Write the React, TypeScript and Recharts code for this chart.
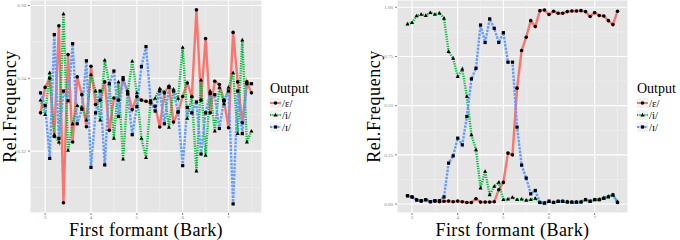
import React from 'react';
import { LineChart, Line, XAxis, YAxis, CartesianGrid, ReferenceLine, Label } from 'recharts';

const bark = [2.9, 3.0, 3.1, 3.2, 3.3, 3.4, 3.5, 3.6, 3.7, 3.8, 3.9, 4.0, 4.1, 4.2, 4.3, 4.4, 4.5, 4.6, 4.7, 4.8, 4.9, 5.0, 5.1, 5.2, 5.3, 5.4, 5.5, 5.6, 5.7, 5.8, 5.9, 6.0, 6.1, 6.2, 6.3, 6.4, 6.5, 6.6, 6.7, 6.8, 6.9, 7.0, 7.1, 7.2, 7.3, 7.4, 7.5];

// Left panel
const leftEh = [0.3305, 0.3375, 0.340, 0.324, 0.3544, 0.3058, 0.3465, 0.3225, 0.3404, 0.3355, 0.3267, 0.3433, 0.3328, 0.334, 0.339, 0.3257, 0.3346, 0.334, 0.3396, 0.3364, 0.3314, 0.335, 0.334, 0.3337, 0.3332, 0.3323, 0.3266, 0.336, 0.3378, 0.328, 0.3307, 0.335, 0.3387, 0.335, 0.3588, 0.334, 0.3509, 0.3305, 0.3392, 0.3383, 0.334, 0.3264, 0.3526, 0.339, 0.3278, 0.339, 0.336];
const leftI = [0.334, 0.330, 0.3415, 0.3245, 0.3225, 0.3577, 0.3202, 0.3275, 0.3325, 0.332, 0.3285, 0.341, 0.3365, 0.3285, 0.345, 0.3385, 0.3235, 0.339, 0.3178, 0.336, 0.3447, 0.336, 0.3235, 0.3182, 0.3335, 0.3345, 0.3372, 0.3362, 0.3265, 0.337, 0.3345, 0.3485, 0.329, 0.335, 0.3145, 0.3395, 0.3188, 0.3365, 0.3255, 0.3375, 0.333, 0.3375, 0.3415, 0.3248, 0.3505, 0.3225, 0.3255];
const leftIh = [0.336, 0.3325, 0.318, 0.352, 0.3235, 0.3365, 0.3338, 0.3495, 0.3275, 0.3315, 0.3448, 0.3155, 0.3305, 0.3365, 0.3162, 0.3385, 0.342, 0.3295, 0.3402, 0.3357, 0.3245, 0.3322, 0.3432, 0.3487, 0.3338, 0.331, 0.3365, 0.3275, 0.3375, 0.3365, 0.3308, 0.316, 0.332, 0.3305, 0.3335, 0.3192, 0.3305, 0.3358, 0.3355, 0.3262, 0.3338, 0.3365, 0.3055, 0.3365, 0.3248, 0.3385, 0.3385];

// Right panel
const rightEh = [0.042, 0.036, 0.022, 0.014, 0.022, 0.012, 0.015, 0.012, 0.014, 0.015, 0.012, 0.015, 0.012, 0.008, 0.008, 0.027, 0.01, 0.01, 0.01, 0.012, 0.073, 0.11, 0.259, 0.25, 0.589, 0.78, 0.848, 0.932, 0.902, 0.983, 0.986, 0.963, 0.98, 0.97, 0.97, 0.978, 0.981, 0.981, 0.983, 0.978, 0.953, 0.973, 0.958, 0.956, 0.932, 0.912, 0.98];
const rightI = [0.915, 0.922, 0.956, 0.964, 0.958, 0.973, 0.964, 0.970, 0.944, 0.775, 0.741, 0.648, 0.685, 0.547, 0.352, 0.276, 0.081, 0.166, 0.047, 0.09, 0.11, 0.022, 0.025, 0.034, 0.022, 0.025, 0.019, 0.022, 0.029, 0.008, 0.005, 0.012, 0.008, 0.014, 0.014, 0.012, 0.01, 0.01, 0.012, 0.022, 0.015, 0.022, 0.025, 0.032, 0.039, 0.047, 0.012];
const rightIh = [0.042, 0.036, 0.02, 0.017, 0.022, 0.012, 0.017, 0.017, 0.036, 0.208, 0.245, 0.335, 0.301, 0.445, 0.636, 0.69, 0.91, 0.821, 0.941, 0.893, 0.821, 0.871, 0.721, 0.721, 0.391, 0.198, 0.132, 0.052, 0.069, 0.008, 0.005, 0.015, 0.008, 0.014, 0.014, 0.01, 0.01, 0.01, 0.01, 0.022, 0.014, 0.022, 0.022, 0.029, 0.036, 0.046, 0.008];

const xTicks = [3, 4, 5, 6, 7];
const xMinor = [3.5, 4.5, 5.5, 6.5, 7.5];
const leftYTicks = [0.32, 0.34, 0.36];
const leftYMinor = [0.31, 0.33, 0.35];
const rightYTicks = [0, 0.25, 0.5, 0.75, 1];
const rightYMinor = [0.125, 0.375, 0.625, 0.875];
const outputLabels = ['/ɛ/', '/i/', '/ɪ/'];

const COLORS = ['#F8766D', '#00BA38', '#619CFF'];
const DASHES = [undefined, '1.2 1.2', '2.4 1.2'];
const SHAPES = ['circle', 'triangle', 'square'];
const KEYS = ['eh', 'i', 'ih'];
const SERIF = '"Liberation Serif", "Times New Roman", serif';

const marker = (shape: string, cx: number, cy: number, key?: any) => {
  if (shape === 'circle') return <circle key={key} cx={cx} cy={cy} r={1.8} fill="#000" />;
  if (shape === 'square') return <rect key={key} x={cx - 1.6} y={cy - 1.6} width={3.2} height={3.2} fill="#000" />;
  return <path key={key} d={`M${cx},${cy - 2.2}L${cx + 2},${cy + 1.4}L${cx - 2},${cy + 1.4}Z`} fill="#000" />;
};

const makeDot = (shape: string) => (props: any) => {
  const { cx, cy, index } = props;
  if (cx == null || cy == null || isNaN(cx) || isNaN(cy)) return <g key={`d${index}`} />;
  return marker(shape, cx, cy, `d${index}`);
};

type PanelProps = {
  left: number;
  eh: number[];
  i: number[];
  ih: number[];
  yDomain: [number, number];
  yTicks: number[];
  yMinor: number[];
  yAxisWidth: number;
  marginRight: number;
  yTitleX: number;
};

const Panel = ({ left, eh, i, ih, yDomain, yTicks, yMinor, yAxisWidth, marginRight, yTitleX }: PanelProps) => {
  const data = bark.map((x, k) => ({ x, eh: eh[k], i: i[k], ih: ih[k] }));
  return (
    <div style={{ position: 'absolute', left, top: 0, width: 340, height: 240 }}>
      <LineChart width={340} height={240} data={data} margin={{ top: 0, right: marginRight, bottom: 0, left: 0 }}>
        <CartesianGrid fill="#E5E5E5" fillOpacity={1} stroke="#FFFFFF" strokeWidth={1.1} />
        {xMinor.map((v) => (
          <ReferenceLine key={`vx${v}`} x={v} stroke="#F2F2F2" strokeWidth={0.6} />
        ))}
        {yMinor.map((v) => (
          <ReferenceLine key={`hy${v}`} y={v} stroke="#F2F2F2" strokeWidth={0.6} />
        ))}
        <XAxis
          dataKey="x"
          type="number"
          domain={[2.67, 7.73]}
          ticks={xTicks}
          height={27}
          axisLine={false}
          tickSize={2}
          tickMargin={0}
          tickLine={{ stroke: '#7F7F7F' }}
          tick={{ fontSize: 5, fill: '#7F7F7F', fontFamily: SERIF }}
          tickFormatter={(v: number) => String(v)}
        >
          <Label
            content={(p: any) => {
              const vb = p.viewBox || {};
              return (
                <text
                  x={vb.x + vb.width / 2}
                  y={236.3}
                  textAnchor="middle"
                  fontSize={18}
                  letterSpacing={0.4}
                  fontFamily={SERIF}
                  fill="#000"
                >
                  First formant (Bark)
                </text>
              );
            }}
          />
        </XAxis>
        <YAxis
          type="number"
          domain={yDomain}
          ticks={yTicks}
          width={yAxisWidth}
          axisLine={false}
          tickSize={2}
          tickMargin={2}
          tickLine={{ stroke: '#7F7F7F' }}
          tick={{ fontSize: 5, fill: '#7F7F7F', fontFamily: SERIF }}
          tickFormatter={(v: number) => v.toFixed(2)}
          allowDataOverflow
        >
          <Label
            content={(p: any) => {
              const vb = p.viewBox || {};
              const cy = vb.y + vb.height / 2;
              return (
                <text
                  x={yTitleX}
                  y={cy}
                  transform={`rotate(-90 ${yTitleX} ${cy})`}
                  textAnchor="middle"
                  fontSize={18}
                  letterSpacing={0.55}
                  fontFamily={SERIF}
                  fill="#000"
                >
                  Rel.Frequency
                </text>
              );
            }}
          />
        </YAxis>
        {KEYS.map((k, n) => (
          <Line
            key={`l${k}`}
            type="linear"
            dataKey={k}
            stroke={COLORS[n]}
            strokeWidth={2.4}
            strokeDasharray={DASHES[n]}
            dot={false}
            activeDot={false}
            isAnimationActive={false}
          />
        ))}
        {KEYS.map((k, n) => (
          <Line
            key={`p${k}`}
            type="linear"
            dataKey={k}
            stroke="none"
            dot={makeDot(SHAPES[n])}
            activeDot={false}
            isAnimationActive={false}
          />
        ))}
      </LineChart>
    </div>
  );
};

const LegendBox = ({ left }: { left: number }) => (
  <div style={{ position: 'absolute', left, top: 81.5, fontFamily: SERIF, color: '#000' }}>
    <div style={{ fontSize: 14, lineHeight: '14px', whiteSpace: 'nowrap' }}>Output</div>
    <div style={{ marginTop: 1.5 }}>
      {outputLabels.map((lab, n) => (
        <div key={lab} style={{ display: 'flex', alignItems: 'center', height: 12 }}>
          <svg width={11} height={10} style={{ display: 'block' }}>
            <rect x={0} y={0} width={11} height={10} fill="#F2F2F2" />
            <line x1={0} y1={5} x2={11} y2={5} stroke={COLORS[n]} strokeWidth={2} strokeDasharray={DASHES[n]} />
            {marker(SHAPES[n], 5.5, 5)}
          </svg>
          <span style={{ fontSize: 10.8, lineHeight: '12px', marginLeft: 1, whiteSpace: 'nowrap' }}>{lab}</span>
        </div>
      ))}
    </div>
  </div>
);

export default function App() {
  return (
    <div style={{ position: 'absolute', left: 0, top: 0, width: 680, height: 240, background: '#fff', overflow: 'hidden' }}>
      <Panel
        left={0}
        eh={leftEh}
        i={leftI}
        ih={leftIh}
        yDomain={[0.303, 0.3615]}
        yTicks={leftYTicks}
        yMinor={leftYMinor}
        yAxisWidth={30}
        marginRight={78}
        yTitleX={15.5}
      />
      <Panel
        left={340}
        eh={rightEh}
        i={rightI}
        ih={rightIh}
        yDomain={[-0.0455, 1.037]}
        yTicks={rightYTicks}
        yMinor={rightYMinor}
        yAxisWidth={57}
        marginRight={52}
        yTitleX={39.5}
      />
      <LegendBox left={270} />
      <LegendBox left={637} />
    </div>
  );
}
